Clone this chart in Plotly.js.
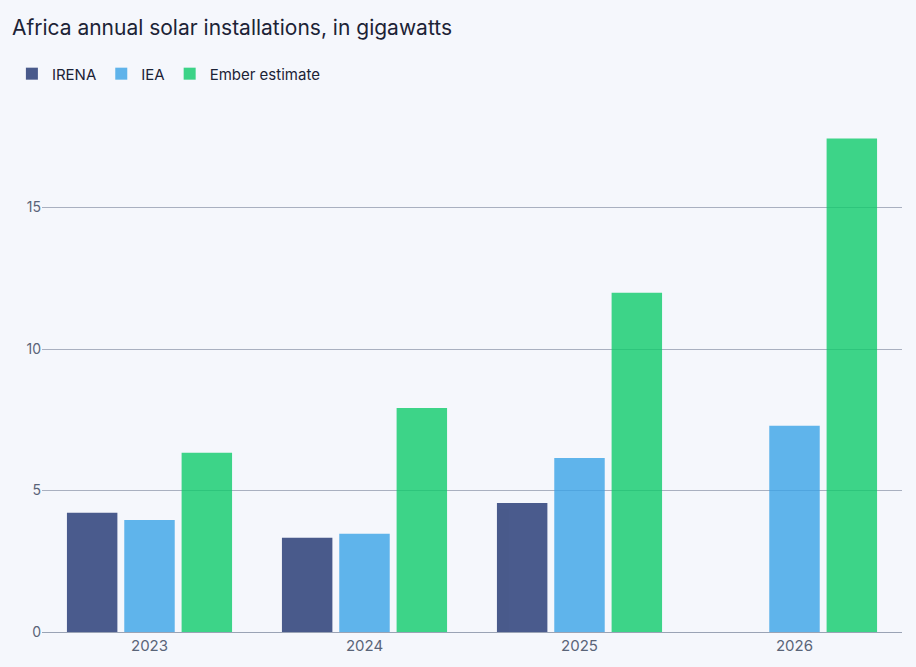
<!DOCTYPE html>
<html>
<head>
<meta charset="utf-8">
<script src="https://cdn.plot.ly/plotly-3.0.1.min.js"></script>
<style>body{margin:0;background:#f5f7fc;}</style>
</head>
<body>
<div id="chart" style="width:916px;height:667px;"></div>
<script>
var years = ['2023', '2024', '2025', '2026'];
var irena = [4.21, 3.33, 4.56, null];
var iea = [3.96, 3.47, 6.15, 7.29];
var ember = [6.33, 7.92, 11.99, 17.44];

function bars(name, y, color) {
  return {type: 'bar', name: name, x: years, y: y, marker: {color: color}, opacity: 0.8,
    hovertemplate: '%{y:.1f} GW<extra>' + name + '</extra>'};
}

var data = [
  bars('IRENA', irena, '#1f3370'),
  bars('IEA', iea, '#3aa3e6'),
  bars('Ember estimate', ember, '#0fcb6a')
];

var layout = {
  width: 916, height: 667,
  paper_bgcolor: '#f5f7fc', plot_bgcolor: '#f5f7fc',
  font: {family: 'Inter, sans-serif', color: '#5a6478', size: 14},
  title: {text: 'Africa annual solar installations, in gigawatts', x: 0.013, xanchor: 'left', y: 0.97, yanchor: 'top',
    font: {size: 21, color: '#1c2336'}},
  showlegend: true,
  legend: {orientation: 'h', x: -0.035, y: 1.049, xanchor: 'left', yanchor: 'middle',
    itemwidth: 30, tracegroupgap: 0, font: {size: 15, color: '#1c2336'}},
  margin: {l: 38, r: 14, t: 100, b: 35},
  barmode: 'group', bargap: 0.2, bargroupgap: 0.12,
  xaxis: {showgrid: false, showline: true, linecolor: '#9aa3b5', ticks: '', tickfont: {size: 15}},
  yaxis: {range: [0, 18.8], tickvals: [0, 5, 10, 15], gridcolor: '#a9b0c0', zeroline: false, ticks: '', tickfont: {size: 14}}
};

Plotly.newPlot('chart', data, layout, {displayModeBar: false});
</script>
</body>
</html>
